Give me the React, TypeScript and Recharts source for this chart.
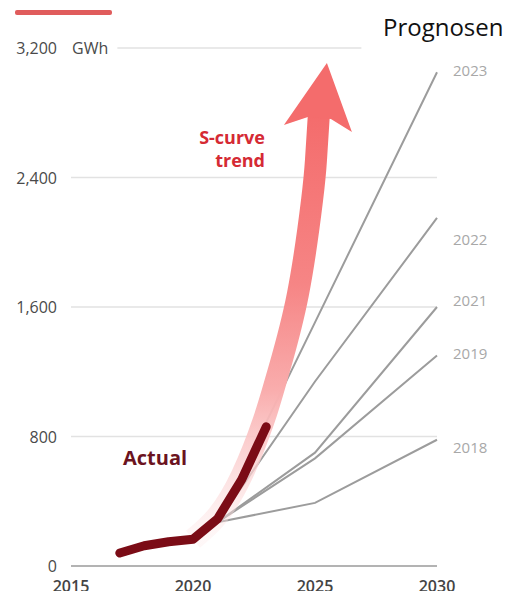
import React from "react";
import { LineChart, Line, XAxis, YAxis, CartesianGrid, ReferenceLine } from "recharts";

// Actual installed capacity (GWh)
const ACTUAL_YEARS = [2017, 2018, 2019, 2020, 2021, 2022, 2023];
const ACTUAL_GWH = [80, 125, 150, 165, 290, 535, 860];

// S-curve trend band
const TREND_YEARS = [2020, 2021, 2022, 2022.9, 2023.5, 2024.3, 2024.88, 2025.04, 2025.16];
const TREND_GWH = [165, 310, 560, 900, 1200, 1680, 2261, 2508, 2792];

// Forecasts made in various years
const FORECAST_YEARS = [2021, 2025, 2030];
const FORECAST_NAMES = ["2023", "2022", "2021", "2019", "2018"];
const FORECAST_GWH = [
  [270, 1505, 3050],
  [270, 1140, 2150],
  [270, 700, 1600],
  [270, 665, 1300],
  [270, 390, 780],
];
const LABEL_DY = [-2, 21, -7, -3, 7];

const X_TICKS = [2015, 2020, 2025, 2030];
const Y_TICKS = [0, 800, 1600, 2400, 3200];

const FONT = "'Open Sans', 'Noto Sans', sans-serif";

const actualData = ACTUAL_YEARS.map((year, i) => ({ year, v: ACTUAL_GWH[i] }));
const trendData = TREND_YEARS.map((year, i) => ({ year, v: TREND_GWH[i] }));
const forecastData = FORECAST_GWH.map((vals) =>
  FORECAST_YEARS.map((year, i) => ({ year, v: vals[i] }))
);

const YTick = (props: any) => {
  const { x, y, payload } = props;
  return (
    <g>
      <text x={x} y={y} textAnchor="end" dominantBaseline="central" fill="#4a4a4a" fontSize={16} fontFamily={FONT}>
        {payload.value.toLocaleString("en-US")}
      </text>
      {payload.value === 3200 && (
        <text x={x + 15} y={y} dominantBaseline="central" fill="#4a4a4a" fontSize={16} fontFamily={FONT}>
          GWh
        </text>
      )}
    </g>
  );
};

const XTick = (props: any) => {
  const { x, y, payload } = props;
  return (
    <text x={x} y={y} dy="0.71em" textAnchor="middle" fill="#444" fontSize={16} fontWeight={600} fontFamily={FONT}>
      {payload.value}
    </text>
  );
};

const labelDot = (name: string, dy: number) => (props: any) => {
  const { cx, cy, index } = props;
  if (index !== FORECAST_YEARS.length - 1) return <g key={index} />;
  return (
    <text key={index} x={cx + 16} y={cy + dy} dominantBaseline="central" fill="#a8a8a8" fontSize={15} fontFamily={FONT}>
      {name}
    </text>
  );
};

// arrowhead drawn at the end of the trend band
const arrowDot = (props: any) => {
  const { cx, cy, index } = props;
  if (index !== TREND_YEARS.length - 1) return <g key={index} />;
  const pts = [
    [cx + 8, cy - 51],
    [cx + 33, cy + 18],
    [cx + 12, cy + 5],
    [cx - 11, cy + 3],
    [cx - 35, cy + 11],
  ]
    .map((p) => p.join(","))
    .join(" ");
  return <polygon key={index} points={pts} fill="#f46c6c" />;
};

export default function App() {
  return (
    <div style={{ position: "relative", width: 514, height: 599, margin: -8, background: "#fff", fontFamily: FONT }}>
      <div style={{ position: "absolute", left: 15, top: 10, width: 97, height: 5, background: "#e05c5c", borderRadius: 2 }} />
      <LineChart width={514} height={599} margin={{ top: 48, right: 77, bottom: 0, left: 0 }}>
        <defs>
          <linearGradient id="trendGrad" x1="0" y1="1" x2="0" y2="0">
            <stop offset="0%" stopColor="#fde6e6" stopOpacity={0.3} />
            <stop offset="18%" stopColor="#fbd0d0" stopOpacity={0.8} />
            <stop offset="35%" stopColor="#f9adad" />
            <stop offset="60%" stopColor="#f68585" />
            <stop offset="100%" stopColor="#f46c6c" />
          </linearGradient>
        </defs>
        <CartesianGrid horizontal vertical={false} horizontalValues={[800, 1600, 2400]} stroke="#e2e2e2" strokeWidth={1.5} />
        <XAxis
          type="number"
          dataKey="year"
          domain={[2015, 2030]}
          ticks={X_TICKS}
          tick={<XTick />}
          tickLine={false}
          tickSize={0}
          tickMargin={15}
          height={33}
          axisLine={{ stroke: "#b3b3b3", strokeWidth: 2 }}
        />
        <YAxis
          type="number"
          domain={[0, 3200]}
          ticks={Y_TICKS}
          tick={<YTick />}
          tickLine={false}
          axisLine={false}
          tickSize={0}
          tickMargin={14}
          width={71}
        />
        <ReferenceLine
          segment={[
            { x: 2016.9, y: 3200 },
            { x: 2026.9, y: 3200 },
          ]}
          stroke="#e2e2e2"
          strokeWidth={1.5}
        />
        {forecastData.map((d, i) => (
          <Line
            key={FORECAST_NAMES[i]}
            data={d}
            dataKey="v"
            type="linear"
            stroke="#9c9c9c"
            strokeWidth={2}
            dot={labelDot(FORECAST_NAMES[i], LABEL_DY[i])}
            activeDot={false}
            isAnimationActive={false}
          />
        ))}
        <Line
          data={trendData}
          dataKey="v"
          type="natural"
          stroke="url(#trendGrad)"
          strokeWidth={22}
          strokeLinecap="butt"
          dot={arrowDot}
          activeDot={false}
          isAnimationActive={false}
        />
        <Line
          data={actualData}
          dataKey="v"
          type="linear"
          stroke="#7b0c16"
          strokeWidth={9}
          strokeLinecap="round"
          strokeLinejoin="round"
          dot={false}
          activeDot={false}
          isAnimationActive={false}
        />
      </LineChart>
      <div style={{ position: "absolute", left: 383, top: 15, fontSize: 24, lineHeight: "24px", color: "#111", background: "#fff" }}>
        Prognosen
      </div>
      <div style={{ position: "absolute", left: 125, width: 140, top: 127, textAlign: "right", fontSize: 18, lineHeight: "20px", fontWeight: 700, color: "#d52a34" }}>
        S-curve
      </div>
      <div style={{ position: "absolute", left: 125, width: 140, top: 150, textAlign: "right", fontSize: 18, lineHeight: "20px", fontWeight: 700, color: "#d52a34" }}>
        trend
      </div>
      <div style={{ position: "absolute", left: 123, top: 447, fontSize: 20, lineHeight: "22px", fontWeight: 700, color: "#6b1320" }}>
        Actual
      </div>
    </div>
  );
}
